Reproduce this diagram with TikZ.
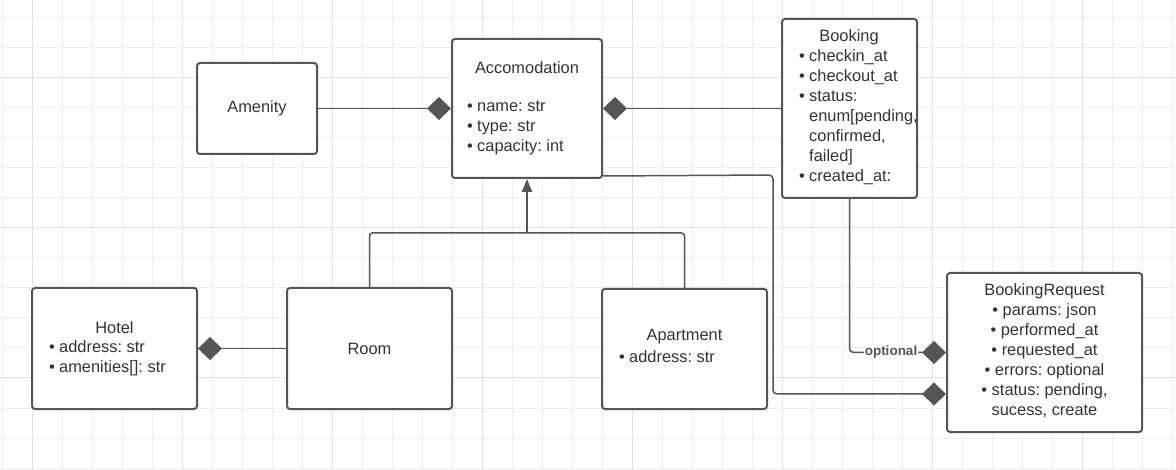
\documentclass[tikz,border=0pt]{standalone}
\usepackage{fontspec}
\setmainfont{Liberation Sans}
\usetikzlibrary{arrows.meta,calc}
\definecolor{edge}{HTML}{555555}
\definecolor{ink}{HTML}{333333}
\definecolor{gridc}{HTML}{EEEEEE}
\definecolor{gridd}{HTML}{E3E3E3}
\newcommand{\bul}{\makebox[10pt][l]{•}}
\newcommand{\ind}{\hspace*{10pt}}
\frenchspacing
\begin{document}
\begin{tikzpicture}[x=1pt,y=-1pt,
  box/.style={draw=edge,line width=2pt,rounded corners=3pt,fill=white,inner sep=0pt,
              text=ink,font=\fontsize{16.4}{20}\selectfont},
  txt/.style={text=ink,font=\fontsize{16.4}{20}\selectfont,inner sep=0pt},
  conn/.style={draw=edge,line width=1.5pt},
  dtip/.style={-{Diamond[length=24pt,width=23pt,fill=edge]}},
  dtail/.style={{Diamond[length=24pt,width=23pt,fill=edge]}-}]
\useasboundingbox (0,0) rectangle (1176,470);
\fill[white] (0,0) rectangle (1176,470);
% grid
\foreach \x in {2,32,...,1172} \draw[gridc,line width=1pt] (\x,0) -- (\x,470);
\foreach \y in {18,48,...,468} \draw[gridc,line width=1pt] (0,\y) -- (1176,\y);
\foreach \x in {32,182,...,1172} \draw[gridd,line width=1pt] (\x,0) -- (\x,470);
\foreach \y in {78,228,378} \draw[gridd,line width=1pt] (0,\y) -- (1176,\y);

% boxes
\node[box,minimum width=120pt,minimum height=91pt] (amen) at (257,108.5) {Amenity};
\node[box,minimum width=150pt,minimum height=139pt] (acc) at (527,108.5) {};
\node[box,minimum width=135pt,minimum height=179pt] (book) at (849.5,108.5) {};
\node[box,minimum width=165pt,minimum height=121pt] (hotel) at (114.5,348.5) {};
\node[box,minimum width=165pt,minimum height=121pt] (room) at (369.5,348.5) {Room};
\node[box,minimum width=165pt,minimum height=120pt] (apt) at (684.5,349) {};
\node[box,minimum width=195pt,minimum height=159pt] (breq) at (1044.5,352.5) {};

% texts
\node[txt] (acctitle) at (527,68) {Accomodation};
\node[txt,anchor=west,align=left] (acclist) at (467,128)
  {\bul name: str\\ \bul type: str\\ \bul capacity: int};
\node[txt] (booktitle) at (849,37) {Booking};
\node[txt,anchor=west,align=left] (booklist) at (799,117)
  {\bul checkin\_at\\ \bul checkout\_at\\ \bul status:\\ \ind enum[pending,\\ \ind confirmed,\\ \ind failed]\\ \bul created\_at:};
\node[txt] (hoteltitle) at (114.5,328) {Hotel};
\node[txt,anchor=west,align=left] (hotellist) at (49,358)
  {\bul address: str\\ \bul amenities[]: str};
\node[txt] (apttitle) at (684.5,337) {Apartment};
\node[txt,anchor=west] (aptlist) at (619,357) {\bul address: str};
\node[txt,align=center] (breqtext) at (1044.5,351)
  {BookingRequest\\ • params: json\\ • performed\_at\\ • requested\_at\\ • errors: optional\\ • status: pending,\\ sucess, create};

% connectors
\draw[conn,dtip] (amen.east) -- (acc.west);
\draw[conn,dtail] (acc.east) -- (book.west);
\draw[conn,dtail] (hotel.east) -- (room.west);

\coordinate (jn) at (527,233);
\draw[conn,rounded corners=3pt] (room.north) |- (jn) -| (apt.north);
\draw[edge,line width=2.2pt,-{Triangle[length=13pt,width=10pt]}] (jn) -- (acc.south);

\draw[conn,rounded corners=4pt,dtip] (book.south) |- (breq.west)
  node[pos=0.715,fill=white,inner sep=1pt,text=edge,font=\fontsize{13.5}{15}\selectfont\bfseries] (opt) {optional};

\coordinate (accout) at ($(acc.south east)+(0,-3)$);
\coordinate (turn) at (773,175);
\coordinate (breqlow) at ($(breq.west)+(0,41.5)$);
\draw[conn,rounded corners=4pt,dtip] (accout) -- (turn) |- (breqlow);
\end{tikzpicture}
\end{document}
